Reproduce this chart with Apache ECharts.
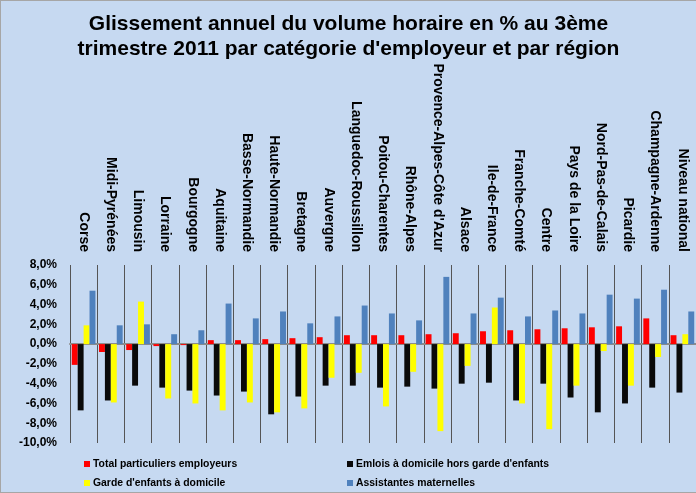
<!DOCTYPE html>
<html>
<head>
<meta charset="utf-8">
<script src="https://cdn.jsdelivr.net/npm/echarts@6/dist/echarts.min.js"></script>
<style>
html,body{margin:0;padding:0;background:#fff;}
#c{width:696px;height:493px;box-sizing:border-box;border:1px solid #a6a6a6;border-right:none;background:#C6D9F1;}
</style>
</head>
<body>
<div id="c"></div>
<script>
var categories = ["Corse","Midi-Pyrénées","Limousin","Lorraine","Bourgogne","Aquitaine","Basse-Normandie","Haute-Normandie","Bretagne","Auvergne","Languedoc-Roussillon","Poitou-Charentes","Rhône-Alpes","Provence-Alpes-Côte d'Azur","Alsace","Ile-de-France","Franche-Comté","Centre","Pays de la Loire","Nord-Pas-de-Calais","Picardie","Champagne-Ardenne","Niveau national"];
var seriesNames = ["Total particuliers employeurs","Emlois à domicile hors garde d'enfants","Garde d'enfants à domicile","Assistantes maternelles"];
var totalParticuliers = [-2.1,-0.8,-0.6,-0.2,-0.1,0.4,0.4,0.5,0.6,0.7,0.9,0.9,0.9,1.0,1.1,1.3,1.4,1.5,1.6,1.7,1.8,2.6,0.9];
var emploisHorsGarde = [-6.7,-5.7,-4.2,-4.4,-4.7,-5.2,-4.8,-7.1,-5.3,-4.2,-4.2,-4.4,-4.3,-4.5,-4.0,-3.9,-5.7,-4.0,-5.4,-6.9,-6.0,-4.4,-4.9];
var gardeEnfants = [1.9,-5.9,4.3,-5.5,-6.0,-6.7,-5.9,-6.9,-6.5,-3.4,-2.9,-6.3,-2.8,-8.8,-2.2,3.7,-6.0,-8.6,-4.2,-0.7,-4.2,-1.3,1.0];
var assistantesMat = [5.4,1.9,2.0,1.0,1.4,4.1,2.6,3.3,2.1,2.8,3.9,3.1,2.4,6.8,3.1,4.7,2.8,3.4,3.1,5.0,4.6,5.5,3.3];
var colors = ["#FF0000","#0A0A0A","#FFFF00","#4F81BD"];
var FONT = "'Liberation Sans', Arial, sans-serif";

var chart = echarts.init(document.getElementById('c'), null, {renderer:'canvas'});
var data = [totalParticuliers, emploisHorsGarde, gardeEnfants, assistantesMat];
var series = seriesNames.map(function(n,i){
  return {
    name:n, type:'bar', xAxisIndex:0, data:data[i],
    itemStyle:{color:colors[i]},
    barGap:'0%', barCategoryGap:'13%'
  };
});
var legendPos = [[83,458],[346,458],[83,477],[346,477]];
var legends = seriesNames.map(function(n,i){
  return {data:[n], left:legendPos[i][0], top:legendPos[i][1], padding:0, itemWidth:6, itemHeight:6, itemGap:0,
    icon:'rect', textStyle:{fontFamily:FONT,fontSize:10.4,fontWeight:'bold',color:'#000',padding:[0,0,0,-2]}};
});
chart.setOption({
  animation:false,
  textStyle:{fontFamily:FONT},
  title:{
    text:"Glissement annuel du volume horaire en % au 3ème\ntrimestre 2011 par catégorie d'employeur et par région",
    left:'center', top:6,
    textStyle:{fontFamily:FONT,fontSize:21,fontWeight:'bold',color:'#000',lineHeight:25}
  },
  legend:legends,
  grid:{left:69, top:264, right:-5, bottom:49, containLabel:false},
  xAxis:[
    {type:'category', data:categories, position:'top',
     axisLine:{show:false,onZero:false}, axisTick:{show:false},
     axisLabel:{interval:0, rotate:90, margin:13, fontFamily:FONT, fontSize:14, fontWeight:'bold', color:'#000'},
     splitLine:{show:true, interval:0, lineStyle:{color:'#555',width:1}}},
    {type:'category', data:categories, position:'bottom',
     axisLine:{show:true,onZero:true,lineStyle:{color:'#8c8c8c',width:2}},
     axisTick:{show:false}, axisLabel:{show:false}, splitLine:{show:false}}
  ],
  yAxis:{type:'value', min:-10, max:8, interval:2,
    axisLine:{show:false}, axisTick:{show:false}, splitLine:{show:false},
    axisLabel:{margin:13, fontFamily:FONT, fontSize:12, fontWeight:'bold', color:'#000',
      formatter:function(v){return v.toFixed(1).replace('.',',')+'%';}}},
  series:series
});
</script>
</body>
</html>
